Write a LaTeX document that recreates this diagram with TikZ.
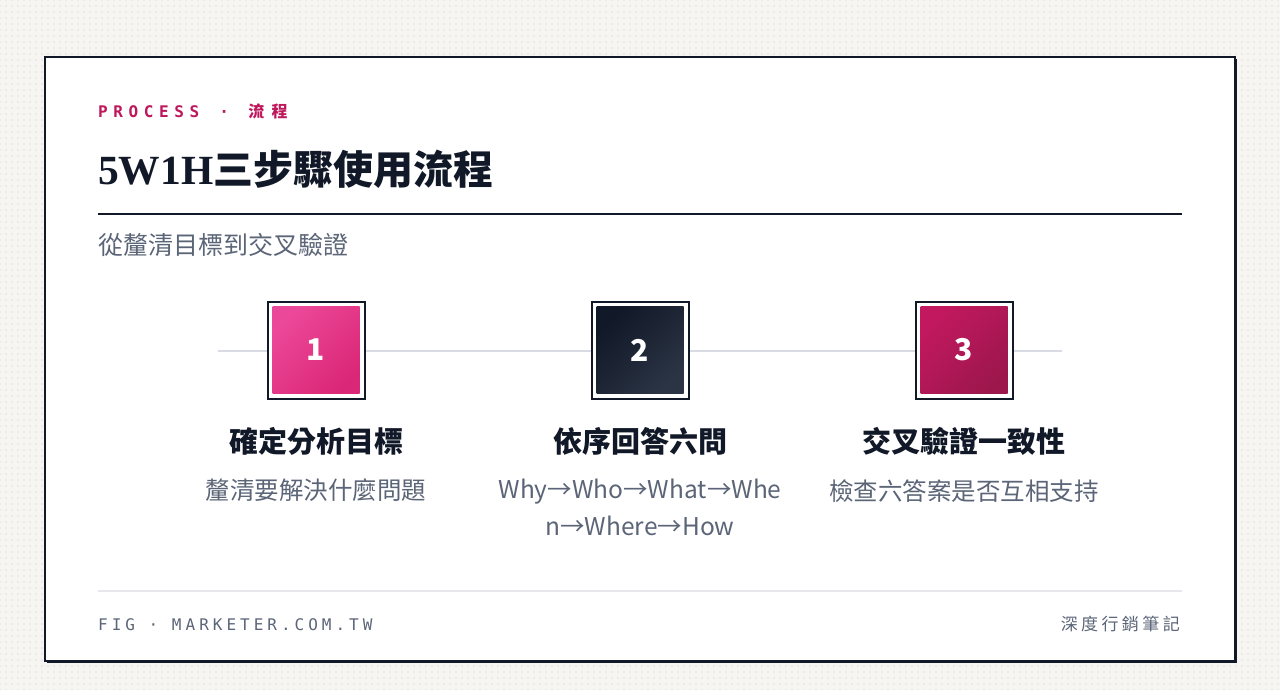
\documentclass[tikz,border=0pt]{standalone}
\usepackage{fontspec}
\usetikzlibrary{positioning}
\usetikzlibrary{patterns.meta}
\newfontfamily\cjk{Noto Sans CJK TC}
\newfontfamily\cjkkicker[LetterSpace=45]{Noto Sans CJK TC}
\newfontfamily\cjkfoot[LetterSpace=20]{Noto Sans CJK TC}
\newfontfamily\titleserif{Liberation Serif}
\newfontfamily\monokicker[LetterSpace=35]{DejaVu Sans Mono}
\newfontfamily\monofoot[LetterSpace=25]{DejaVu Sans Mono}
\definecolor{ink}{HTML}{111827}
\definecolor{crimson}{HTML}{BE185D}
\definecolor{slate}{HTML}{5B6577}
\definecolor{rulegray}{HTML}{D8DCE2}
\definecolor{footrule}{HTML}{E6E8EC}
\definecolor{paper}{HTML}{F6F5F2}
\definecolor{paperdot}{HTML}{E3E0DA}
\definecolor{pinkA}{HTML}{EC4899}
\definecolor{pinkB}{HTML}{DB2777}
\definecolor{darkA}{HTML}{111827}
\definecolor{darkB}{HTML}{2B3445}
\definecolor{roseA}{HTML}{C2185F}
\definecolor{roseB}{HTML}{9D174D}
\tikzset{
  stepframe/.style={draw=ink, line width=2pt, fill=white, minimum size=97pt, inner sep=0pt},
  stepbox/.style={minimum size=87pt, inner sep=0pt, text=white, font=\cjk\bfseries\fontsize{30}{30}\selectfont},
  steptitle/.style={inner sep=0pt, text=ink, font=\cjk\bfseries\fontsize{29}{32}\selectfont},
  stepnote/.style={inner sep=0pt, text=slate, align=center, font=\cjk\fontsize{24.5}{37}\selectfont},
}

\begin{document}
\begin{tikzpicture}[x=1pt, y=-1pt]
  \fill[paper] (0,0) rectangle (1280,690);
  \fill[pattern={Dots[distance=6pt, radius=0.8pt]}, pattern color=paperdot] (0,0) rectangle (1280,690);
  \useasboundingbox (0,0) rectangle (1280,690);
  % card
  \fill[ink] (47,59) rectangle (1237,663);
  \draw[ink, line width=2pt, fill=white] (45,57) rectangle (1235,661);

  % header
  \node[anchor=base west, inner sep=0pt, text=crimson, font=\monokicker\bfseries\fontsize{16}{18}\selectfont] (kicker) at (98,118) {PROCESS\hspace{5pt} · \hspace{4pt}{\cjkkicker\fontsize{16}{18}\selectfont 流程}};
  \node[anchor=base west, inner sep=0pt, text=ink] (title) at (98,185) {{\titleserif\bfseries\fontsize{41.5}{48}\selectfont 5W1H}{\cjk\bfseries\fontsize{40}{48}\selectfont 三步驟使用流程}};
  \coordinate (ruleL) at (98,214);
  \coordinate (ruleR) at (1182,214);
  \draw[ink, line width=2pt] (ruleL) -- (ruleR);
  \node[anchor=base west, inner sep=0pt, text=slate, font=\cjk\fontsize{25}{28}\selectfont] (subtitle) at (98,254) {從釐清目標到交叉驗證};

  % timeline
  \coordinate (lineL) at (218,351);
  \coordinate (lineR) at (1062,351);
  \draw[rulegray, line width=2pt] (lineL) -- (lineR);

  \node[stepframe] (f1) at (316,350) {};
  \node[stepbox, top color=pinkA, bottom color=pinkB, shading angle=45] (s1) at (f1) {1};
  \foreach \i/\ca/\cb [remember=\i as \lasti (initially 1)] in {2/darkA/darkB, 3/roseA/roseB}{
    \node[stepframe, right=225pt of f\lasti] (f\i) {};
    \node[stepbox, top color=\ca, bottom color=\cb, shading angle=45] (s\i) at (f\i) {\i};
  }

  \foreach \i/\t/\d in {1/確定分析目標/釐清要解決什麼問題, 2/依序回答六問/{Why→Who→What→Whe\\n→Where→How}, 3/交叉驗證一致性/檢查六答案是否互相支持}{
    \node[steptitle, below=28pt of f\i] (t\i) {\t};
    \node[stepnote, below=23pt of t\i] (d\i) {\d};
  }

  % footer
  \coordinate (footL) at (98,591);
  \coordinate (footR) at (1182,591);
  \draw[footrule, line width=2pt] (footL) -- (footR);
  \node[anchor=base west, inner sep=0pt, text=slate, font=\monofoot\fontsize{16}{18}\selectfont] (fig) at (98,630) {FIG · MARKETER.COM.TW};
  \node[anchor=base east, inner sep=0pt, text=slate, font=\cjkfoot\fontsize{17}{18}\selectfont] (brand) at (1180,630) {深度行銷筆記};
\end{tikzpicture}
\end{document}
